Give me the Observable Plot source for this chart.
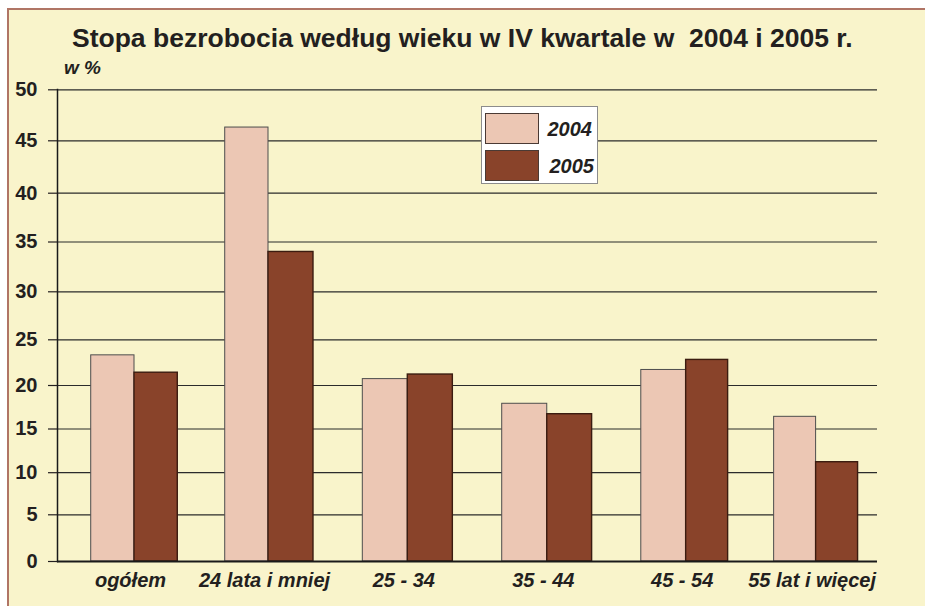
<!DOCTYPE html>
<html>
<head>
<meta charset="utf-8">
<script src="https://cdn.jsdelivr.net/npm/d3@7"></script>
<script src="https://cdn.jsdelivr.net/npm/@observablehq/plot@0.6"></script>
<style>
html, body { margin: 0; padding: 0; background: #ffffff; }
#wrap { position: relative; width: 925px; height: 606px; overflow: hidden;
  font-family: "Liberation Sans", Arial, sans-serif; color: #231f20; }
#bg { position: absolute; left: 7px; top: 8px; right: -5px; bottom: -5px;
  background: #f9f4cb; border-left: 2px solid #b07565; border-top: 2px solid #b07565; }
#chart { position: absolute; left: 0; top: 0; }
#title { position: absolute; left: 72px; top: 24.6px; font-size: 26.5px; font-weight: bold;
  line-height: 1; white-space: pre; }
#unit { position: absolute; left: 64px; top: 58px; font-size: 19px; font-weight: bold;
  font-style: italic; line-height: 1; }
#legend { position: absolute; left: 480.5px; top: 105.5px; width: 115px; height: 76px;
  background: #ffffff; border: 1px solid #8c8c8c; }
.sw { position: absolute; left: 3px; width: 52px; height: 29px; border: 1px solid #4a3a34; }
.lt { position: absolute; font-size: 20px; font-weight: bold; font-style: italic; line-height: 1; }
</style>
</head>
<body>
<div id="wrap">
  <div id="bg"></div>
  <div id="chart"></div>
  <div id="title"></div>
  <div id="unit"></div>
  <div id="legend"></div>
</div>
<script>
// ---- data ----
const titleText = "Stopa bezrobocia według wieku w IV kwartale w  2004 i 2005 r.";
const unitText = "w %";
const categories = ["ogółem", "24 lata i mniej", "25 - 34", "35 - 44", "45 - 54", "55 lat i więcej"];
const values2004 = [23.3, 46.3, 20.7, 17.9, 21.7, 16.4];
const values2005 = [21.4, 34.0, 21.2, 16.7, 22.8, 11.2];
const years = ["2004", "2005"];
const colors = ["#ecc7b4", "#89432a"];
const yTicks = [0, 5, 10, 15, 20, 25, 30, 35, 40, 45, 50];

const rows = categories.map((c, i) => ({ i, c, v2004: values2004[i], v2005: values2005[i] }));
const idx = categories.map((c, i) => i);

// The reference's axes are slightly uneven: reproduce them with piecewise scale transforms.
const warpX = d3.scaleLinear().domain(idx).range([134, 268, 407.3, 546.75, 685.65, 815.6]);
const warpY = d3.scaleLinear().domain(yTicks)
  .range([561, 514.3, 472.2, 428.5, 385, 339.3, 291.3, 241.5, 192.7, 140.3, 89.3]);
const half = 0.323; // half of a category pair, in category units

const chart = Plot.plot({
  width: 925,
  height: 606,
  marginLeft: 57,
  marginRight: 48,
  marginTop: 89,
  marginBottom: 45,
  style: { background: "transparent", fontFamily: "'Liberation Sans', Arial, sans-serif", color: "#231f20" },
  x: { type: "linear", transform: warpX, domain: [0, 925], range: [0, 925] },
  y: { type: "linear", transform: warpY, domain: [0, 606], range: [0, 606] },
  marks: [
    Plot.ruleY(yTicks.filter(t => t > 0), { stroke: "#2b2b2b", strokeWidth: 1.2 }),
    Plot.rectY(rows, { x1: d => d.i - half, x2: d => d.i, y1: 0, y2: "v2004",
      fill: colors[0], stroke: "#4d4d4d", strokeWidth: 1 }),
    Plot.rectY(rows, { x1: d => d.i, x2: d => d.i + half, y1: 0, y2: "v2005",
      fill: colors[1], stroke: "#3b1c10", strokeWidth: 1.4 }),
    Plot.ruleY([0], { stroke: "#1a1a1a", strokeWidth: 2 }),
    Plot.frame({ anchor: "left", stroke: "#1a1a1a", strokeWidth: 1.5 }),
    Plot.axisY(yTicks, { tickSize: 9, tickPadding: 11, fontSize: 20, fontWeight: "bold",
      label: null, strokeWidth: 1.2 }),
    Plot.axisX(idx, { tickFormat: i => categories[i], tickSize: 0, tickPadding: 11, dx: -4,
      fontSize: 20, fontWeight: "bold", fontStyle: "italic", label: null })
  ]
});
document.getElementById("chart").appendChild(chart);
document.getElementById("title").textContent = titleText;
document.getElementById("unit").textContent = unitText;

const legend = document.getElementById("legend");
years.forEach((y, k) => {
  const sw = document.createElement("div");
  sw.className = "sw";
  sw.style.top = (6 + k * 37) + "px";
  sw.style.background = colors[k];
  legend.appendChild(sw);
  const t = document.createElement("div");
  t.className = "lt";
  t.textContent = y;
  t.style.left = (66 + k * 2) + "px";
  t.style.top = (12 + k * 37) + "px";
  legend.appendChild(t);
});
</script>
</body>
</html>
